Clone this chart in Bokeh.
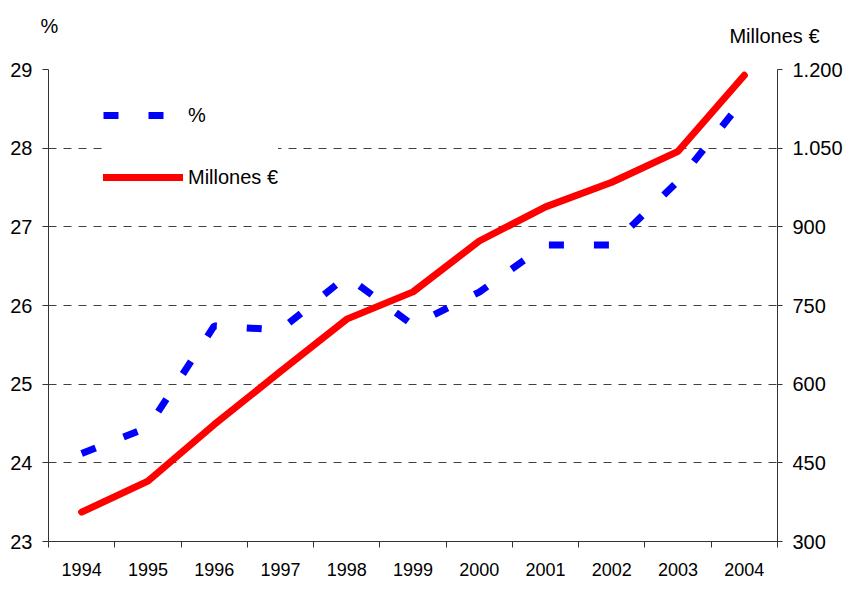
from bokeh.plotting import figure
from bokeh.models import (Range1d, LinearAxis, FixedTicker, Legend, LegendItem, Title)
from bokeh.embed import file_html
from bokeh.resources import INLINE

years = [1994, 1995, 1996, 1997, 1998, 1999, 2000, 2001, 2002, 2003, 2004]
pct = [24.12, 24.45, 25.74, 25.69, 26.37, 25.75, 26.17, 26.77, 26.77, 27.58, 28.63]
millones = [356, 415, 523, 624, 724, 776, 873, 938, 985, 1044, 1189]
left_ticks = [23, 24, 25, 26, 27, 28, 29]
right_ticks = [300, 450, 600, 750, 900, 1050, 1200]
right_labels = ["300", "450", "600", "750", "900", "1.050", "1.200"]

FONT = "Liberation Sans"

p = figure(width=845, height=579, output_backend="svg", toolbar_location=None,
           x_range=Range1d(1993.5, 2004.5), y_range=Range1d(left_ticks[0], left_ticks[-1]),
           min_border_left=48, min_border_right=67, min_border_top=69, min_border_bottom=38)
p.extra_y_ranges = {"right": Range1d(right_ticks[0], right_ticks[-1])}
p.outline_line_color = None
p.background_fill_color = "white"

# bottom axis
xa = p.xaxis[0]
xa.ticker = FixedTicker(ticks=years, minor_ticks=[y - 0.5 for y in years] + [years[-1] + 0.5])
xa.major_tick_out = 0
xa.major_tick_in = 0
xa.minor_tick_out = 6
xa.minor_tick_in = 0
xa.major_label_standoff = 15
xa.major_label_text_font = FONT
xa.major_label_text_font_size = "18px"
xa.major_label_text_color = "black"
xa.axis_line_color = "#333333"
xa.minor_tick_line_color = "#333333"

# left axis
ya = p.yaxis[0]
ya.ticker = FixedTicker(ticks=left_ticks)
ya.major_tick_out = 6
ya.major_tick_in = 0
ya.minor_tick_line_color = None
ya.major_label_standoff = 10
ya.major_label_text_font = FONT
ya.major_label_text_font_size = "20px"
ya.major_label_text_color = "black"
ya.axis_line_color = "#333333"
ya.major_tick_line_color = "#333333"

# right axis
ra = LinearAxis(y_range_name="right")
ra.ticker = FixedTicker(ticks=right_ticks)
ra.major_label_overrides = {t: l for t, l in zip(right_ticks, right_labels)}
ra.major_tick_out = 5
ra.major_tick_in = 0
ra.minor_tick_line_color = None
ra.major_label_standoff = 10
ra.major_label_text_font = FONT
ra.major_label_text_font_size = "20px"
ra.major_label_text_color = "black"
ra.axis_line_color = "#333333"
ra.major_tick_line_color = "#333333"
p.add_layout(ra, "right")

p.xgrid.grid_line_color = None
p.ygrid.ticker = FixedTicker(ticks=left_ticks)
p.ygrid.grid_line_color = "#404040"
p.ygrid.grid_line_dash = "8 7"
p.ygrid.grid_line_width = 1

r_pct = p.line(years, pct, line_color="#0000FF", line_width=7, line_dash="15 30",
               line_cap="butt")
r_mil = p.line(years, millones, y_range_name="right", line_color="#FF0000", line_width=7,
               line_cap="round", line_join="round")

legend = Legend(items=[LegendItem(label="%", renderers=[r_pct]),
                       LegendItem(label="Millones €", renderers=[r_mil])],
                location=(55, 349), margin=0, padding=10, spacing=32,
                glyph_width=80, glyph_height=30, label_standoff=5,
                label_text_font=FONT, label_text_font_size="20px",
                label_text_color="black",
                background_fill_color="white", background_fill_alpha=1.0,
                border_line_color=None)
p.add_layout(legend, "center")

# axis titles (inner one first = closest to the frame)
p.add_layout(Title(text="Millones €", align="right", offset=-42, standoff=45,
                   text_font=FONT, text_font_size="20px", text_font_style="normal",
                   text_color="black"), "above")
p.add_layout(Title(text="%", align="left", offset=-8, standoff=-73,
                   text_font=FONT, text_font_size="20px", text_font_style="normal",
                   text_color="black"), "above")

open("out.html", "w").write(file_html(p, INLINE))
